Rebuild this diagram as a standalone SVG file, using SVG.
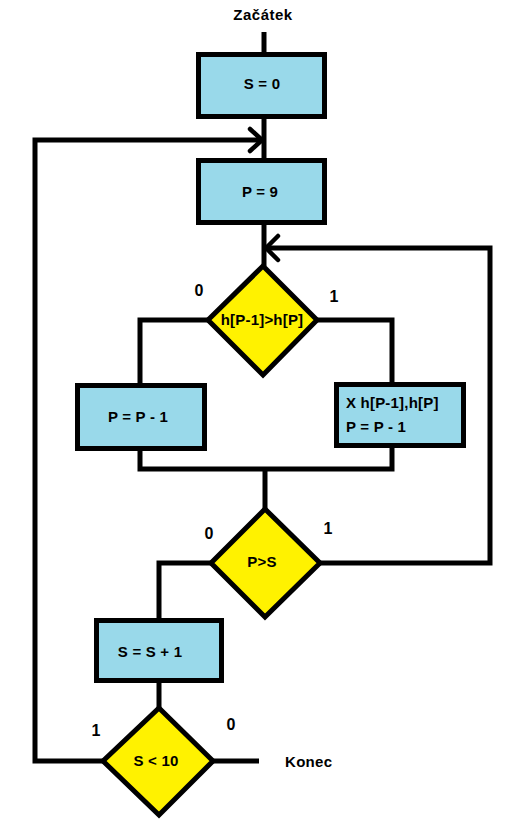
<svg xmlns="http://www.w3.org/2000/svg" width="529" height="839" viewBox="0 0 529 839">
<style>
.box{fill:#99D9EA;stroke:#000;stroke-width:5}
.dia{fill:#FFF200;stroke:#000;stroke-width:5;stroke-linejoin:miter}
.ln{fill:none;stroke:#000;stroke-width:5;stroke-linejoin:miter}
.ar{fill:none;stroke:#000;stroke-width:4.5;stroke-linecap:round;stroke-linejoin:round}
text{font-family:"Liberation Sans",Arial,sans-serif;font-weight:bold;fill:#000}
.t{font-size:15px;letter-spacing:0.2px;text-anchor:middle}
.lb{font-size:16px;text-anchor:middle}
</style>
<rect width="529" height="839" fill="#fff"/>
<g id="connectors">
<path class="ln" d="M264,32 V54"/>
<path class="ln" d="M264,117 V160"/>
<path class="ln" d="M264,223 V266"/>
<path class="ln" d="M208,320 H140 V385"/>
<path class="ln" d="M317,320 H392 V384"/>
<path class="ln" d="M140,449 V469 H392 V446"/>
<path class="ln" d="M265,469 V509"/>
<path class="ln" d="M320,563 H490 V248 H265"/>
<path class="ln" d="M211,563 H159 V620"/>
<path class="ln" d="M159,681 V708"/>
<path class="ln" d="M213,761 H259"/>
<path class="ln" d="M103,761 H35 V140 H262"/>
<path class="ar" d="M250,129 L262,140 L250,151"/>
<path class="ar" d="M278,236 L266,248 L278,260"/>
</g>
<g id="start"><text x="263" y="20" style="font-size:15px;letter-spacing:0.5px;text-anchor:middle">Začátek</text></g>
<g id="s0"><rect class="box" x="198.5" y="54.5" width="126" height="62"/><text class="t" x="262" y="89">S = 0</text></g>
<g id="p9"><rect class="box" x="198.5" y="160.5" width="126" height="62"/><text class="t" x="260" y="197">P = 9</text></g>
<g id="cmp"><polygon class="dia" points="263,266 317,320 263,375 208,320"/><text class="t" x="262" y="325">h[P-1]&gt;h[P]</text></g>
<g id="lbl1"><text class="lb" x="199" y="296">0</text><text class="lb" x="334" y="302">1</text></g>
<g id="dec"><rect class="box" x="77.5" y="385.5" width="127" height="63"/><text class="t" x="138" y="422">P = P - 1</text></g>
<g id="swap"><rect class="box" x="336.5" y="384.5" width="127" height="61"/><text x="346" y="408" style="font-size:15px;letter-spacing:0.2px">X h[P-1],h[P]</text><text x="346" y="432" style="font-size:15px;letter-spacing:0.2px">P = P - 1</text></g>
<g id="ps"><polygon class="dia" points="265,509 320,563 265,617 211,563"/><text class="t" x="262" y="567">P&gt;S</text></g>
<g id="lbl2"><text class="lb" x="209" y="539">0</text><text class="lb" x="328" y="534">1</text></g>
<g id="inc"><rect class="box" x="96.5" y="620.5" width="125" height="60"/><text class="t" x="150" y="657">S = S + 1</text></g>
<g id="s10"><polygon class="dia" points="159,708 213,761 159,815 103,761"/><text class="t" x="156" y="766">S &lt; 10</text></g>
<g id="lbl3"><text class="lb" x="96" y="736">1</text><text class="lb" x="231" y="730">0</text></g>
<g id="end"><text x="285" y="767" style="font-size:15px;letter-spacing:0.3px">Konec</text></g>
</svg>
